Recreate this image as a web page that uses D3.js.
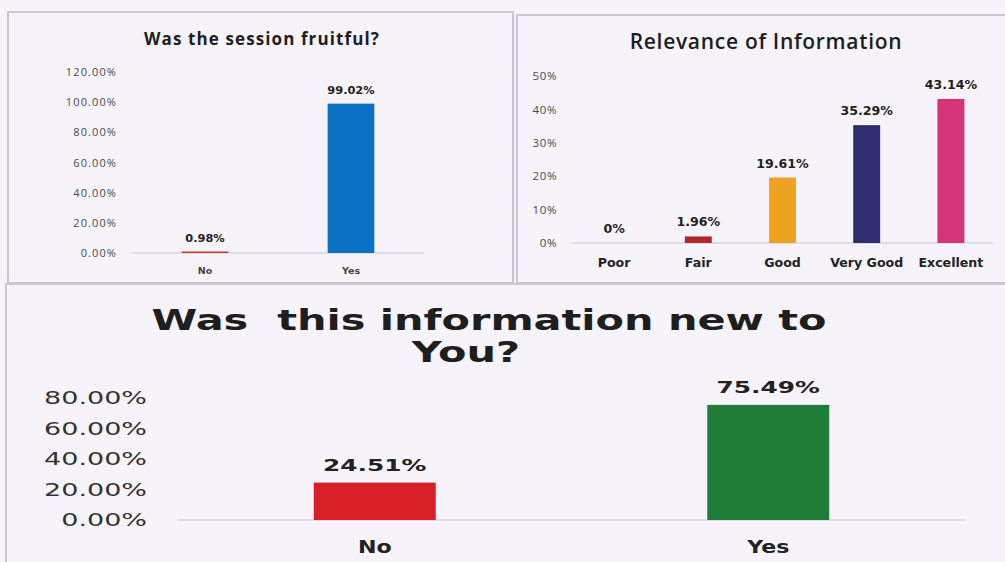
<!DOCTYPE html>
<html>
<head>
<meta charset="utf-8">
<script src="https://cdn.jsdelivr.net/npm/d3@7"></script>
<style>
  html, body { margin: 0; padding: 0; background: #f7f3fa; }
  svg { display: block; }
</style>
</head>
<body>
<svg id="board" width="1005" height="562"></svg>
<script>
// ---- Was the session fruitful? ----
const fruitfulCategories = ["No", "Yes"];
const fruitfulValues = [0.98, 99.02];
const fruitfulTicks = [0, 20, 40, 60, 80, 100, 120];
const fruitfulColors = ["#c0392b", "#0a72c4"];

// ---- Relevance of Information ----
const relevanceCategories = ["Poor", "Fair", "Good", "Very Good", "Excellent"];
const relevanceValues = [0, 1.96, 19.61, 35.29, 43.14];
const relevanceTicks = [0, 10, 20, 30, 40, 50];
const relevanceColors = ["#c9c9c9", "#b3242c", "#eea21f", "#2f2e72", "#d53579"];

// ---- Was this information new to You? ----
const newInfoCategories = ["No", "Yes"];
const newInfoValues = [24.51, 75.49];
const newInfoTicks = [0, 20, 40, 60, 80];
const newInfoColors = ["#d81f26", "#1f7d37"];

const svg = d3.select("#board");

// widen a text run horizontally (the wide display face is not installed)
function stretch(sel, k) {
  sel.each(function () {
    const w = this.getComputedTextLength();
    d3.select(this).attr("textLength", w * k).attr("lengthAdjust", "spacingAndGlyphs");
  });
}

// panel frames
const frame = svg.append("g").attr("fill", "none").attr("stroke", "#cbc6d1").attr("stroke-width", 2);
frame.append("path").attr("d", "M8,283 L8,12 L513,12 L513,283 Z");
frame.append("path").attr("d", "M1006,15 L517,15 L517,283 L1006,283");
frame.append("path").attr("d", "M6,563 L6,284 L1006,284");

function barPanel(cfg) {
  const g = svg.append("g");
  const x = d3.scaleBand().domain(cfg.categories).range([cfg.x0, cfg.x1])
    .paddingInner(cfg.pad).paddingOuter(cfg.pad / 2);
  const y = d3.scaleLinear().domain([0, cfg.max]).range([cfg.base, cfg.top]);

  // value axis
  const ax = g.append("g").attr("transform", `translate(${cfg.axisX},0)`)
    .call(d3.axisLeft(y).tickValues(cfg.ticks).tickSize(0).tickPadding(0).tickFormat(cfg.fmt));
  ax.select(".domain").remove();
  ax.selectAll("text")
    .attr("font-family", cfg.axisFont).attr("font-size", cfg.axisSize)
    .attr("font-weight", cfg.axisWeight || 400)
    .attr("fill", cfg.axisColor).attr("letter-spacing", cfg.axisSpacing || 0);
  if (cfg.axisStretch) stretch(ax.selectAll("text"), cfg.axisStretch);

  // baseline
  g.append("line").attr("x1", cfg.x0).attr("x2", cfg.x1)
    .attr("y1", y(0)).attr("y2", y(0))
    .attr("stroke", "#d9d6dd").attr("stroke-width", 1.5);

  // bars
  g.selectAll("rect.bar").data(cfg.values).join("rect").attr("class", "bar")
    .attr("x", (d, i) => x(cfg.categories[i]))
    .attr("width", x.bandwidth())
    .attr("y", d => y(d))
    .attr("height", d => y(0) - y(d))
    .attr("fill", (d, i) => cfg.colors[i]);

  // value labels
  const vl = g.selectAll("text.val").data(cfg.values).join("text").attr("class", "val")
    .attr("x", (d, i) => x(cfg.categories[i]) + x.bandwidth() / 2)
    .attr("y", d => y(d) - cfg.valGap)
    .attr("text-anchor", "middle")
    .attr("font-family", cfg.valFont).attr("font-size", cfg.valSize)
    .attr("font-weight", 700).attr("fill", "#222")
    .text((d, i) => cfg.valText(d));
  if (cfg.valStretch) stretch(vl, cfg.valStretch);

  // category labels
  const cl = g.selectAll("text.cat").data(cfg.categories).join("text").attr("class", "cat")
    .attr("x", d => x(d) + x.bandwidth() / 2)
    .attr("y", cfg.catY)
    .attr("text-anchor", "middle")
    .attr("font-family", cfg.catFont).attr("font-size", cfg.catSize)
    .attr("font-weight", cfg.catWeight).attr("fill", cfg.catColor)
    .text(d => d);
  if (cfg.catStretch) stretch(cl, cfg.catStretch);
  return g;
}

// ---- chart 1 ----
svg.append("text").attr("x", 262).attr("y", 45).attr("text-anchor", "middle")
  .attr("font-family", "Open Sans").attr("font-weight", 700).attr("font-size", 17)
  .attr("letter-spacing", 1.1)
  .attr("fill", "#1e1e1e").text("Was the session fruitful?");
barPanel({
  categories: fruitfulCategories, values: fruitfulValues, colors: fruitfulColors,
  ticks: fruitfulTicks, max: 120, x0: 132, x1: 424, base: 253, top: 72, pad: 0.68,
  axisX: 117, fmt: d => d3.format(".2f")(d) + "%",
  axisFont: "Open Sans", axisSize: 11, axisColor: "#4a4a4a", axisSpacing: 1.1,
  valFont: "DejaVu Sans", valSize: 10.5, valGap: 10, valStretch: 1.08,
  valText: d => d3.format(".2f")(d) + "%",
  catFont: "DejaVu Sans", catSize: 9.5, catWeight: 600, catColor: "#444", catY: 274
});

// ---- chart 2 ----
svg.append("text").attr("x", 766).attr("y", 49).attr("text-anchor", "middle")
  .attr("font-family", "Open Sans").attr("font-weight", 600).attr("font-size", 21)
  .attr("letter-spacing", 0.7)
  .attr("fill", "#1e1e1e").text("Relevance of Information");
barPanel({
  categories: relevanceCategories, values: relevanceValues, colors: relevanceColors,
  ticks: relevanceTicks, max: 50, x0: 572, x1: 993, base: 243, top: 76, pad: 0.68,
  axisX: 557, fmt: d => d + "%",
  axisFont: "Open Sans", axisSize: 11.5, axisColor: "#4a4a4a", axisSpacing: 0.6,
  valFont: "DejaVu Sans", valSize: 12, valGap: 10, valStretch: 1.05,
  valText: d => (d === 0 ? "0" : d3.format(".2f")(d)) + "%",
  catFont: "DejaVu Sans", catSize: 12, catWeight: 700, catColor: "#222", catY: 267, catStretch: 1.05
});

// ---- chart 3 ----
const t3 = svg.append("text").attr("text-anchor", "middle")
  .attr("font-family", "DejaVu Sans").attr("font-weight", 700).attr("font-size", 28)
  .attr("fill", "#1e1e1e").style("white-space", "pre");
t3.append("tspan").attr("x", 489).attr("y", 330).text("Was  this information new to");
t3.append("tspan").attr("x", 466).attr("y", 362).text("You?");
stretch(t3.selectAll("tspan"), 1.48);

barPanel({
  categories: newInfoCategories, values: newInfoValues, colors: newInfoColors,
  ticks: newInfoTicks, max: 80, x0: 178, x1: 965, base: 520, top: 398, pad: 0.69,
  axisX: 147, fmt: d => d3.format(".2f")(d) + "%",
  axisFont: "DejaVu Sans", axisSize: 18, axisWeight: 400, axisColor: "#333", axisStretch: 1.5,
  valFont: "DejaVu Sans", valSize: 16, valGap: 12, valStretch: 1.55,
  valText: d => d3.format(".2f")(d) + "%",
  catFont: "DejaVu Sans", catSize: 17, catWeight: 700, catColor: "#222", catY: 553, catStretch: 1.3
});
</script>
</body>
</html>
